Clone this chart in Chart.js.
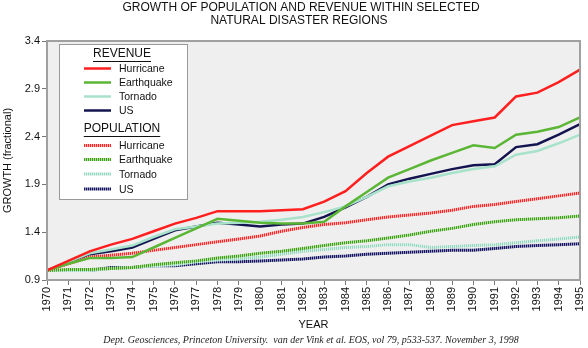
<!DOCTYPE html>
<html>
<head>
<meta charset="utf-8">
<script src="https://cdn.jsdelivr.net/npm/chart.js@4"></script>
<style>
  body { margin: 0; background: #fff; }
  #wrap { width: 588px; height: 348px; }
</style>
</head>
<body>
<div id="wrap"><canvas id="myChart" width="588" height="348"></canvas></div>
<script>
const years = [];
for (let y = 1970; y <= 1995; y++) years.push(String(y));

const yTicks = [0.9, 1.4, 1.9, 2.4, 2.9, 3.4];

// revenue growth, fraction of 1970
const revHurricane = [1.00, 1.10, 1.20, 1.27, 1.33, 1.41, 1.49, 1.55, 1.62, 1.62, 1.62, 1.63, 1.64, 1.72, 1.83, 2.02, 2.19, 2.30, 2.41, 2.52, 2.56, 2.60, 2.82, 2.86, 2.97, 3.10];
const revEarthquake = [1.00, 1.07, 1.13, 1.13, 1.14, 1.24, 1.34, 1.44, 1.54, 1.52, 1.50, 1.49, 1.49, 1.51, 1.67, 1.82, 1.97, 2.06, 2.15, 2.23, 2.31, 2.28, 2.42, 2.45, 2.50, 2.60];
const revTornado = [1.00, 1.09, 1.18, 1.22, 1.26, 1.35, 1.43, 1.46, 1.49, 1.50, 1.51, 1.53, 1.56, 1.61, 1.67, 1.77, 1.88, 1.93, 1.97, 2.02, 2.06, 2.09, 2.21, 2.25, 2.33, 2.42];
const revUS = [1.00, 1.09, 1.17, 1.20, 1.24, 1.33, 1.42, 1.46, 1.50, 1.48, 1.46, 1.48, 1.49, 1.56, 1.66, 1.77, 1.90, 1.96, 2.01, 2.06, 2.10, 2.11, 2.29, 2.32, 2.42, 2.53];

// population growth, fraction of 1970
const popHurricane = [1.00, 1.07, 1.14, 1.16, 1.18, 1.21, 1.24, 1.27, 1.30, 1.33, 1.36, 1.41, 1.45, 1.48, 1.50, 1.53, 1.56, 1.58, 1.60, 1.63, 1.67, 1.69, 1.72, 1.75, 1.78, 1.81];
const popEarthquake = [1.00, 1.01, 1.01, 1.02, 1.03, 1.06, 1.08, 1.10, 1.13, 1.15, 1.18, 1.20, 1.23, 1.26, 1.29, 1.31, 1.34, 1.37, 1.41, 1.44, 1.48, 1.51, 1.53, 1.54, 1.55, 1.57];
const popTornado = [1.00, 1.00, 1.00, 1.02, 1.03, 1.05, 1.06, 1.09, 1.11, 1.12, 1.14, 1.17, 1.20, 1.22, 1.24, 1.25, 1.27, 1.27, 1.24, 1.25, 1.26, 1.27, 1.29, 1.31, 1.33, 1.35];
const popUS = [1.00, 1.00, 1.00, 1.03, 1.03, 1.05, 1.05, 1.07, 1.09, 1.09, 1.10, 1.11, 1.12, 1.14, 1.15, 1.17, 1.18, 1.19, 1.20, 1.21, 1.21, 1.23, 1.25, 1.26, 1.27, 1.28];

const font = '"Liberation Sans", Arial, sans-serif';
const ctx = document.getElementById('myChart').getContext('2d');

// striped stroke for the population lines: dark dot, pale gap
function stripes(dark, light) {
    const c = document.createElement('canvas');
    c.width = 2;
    c.height = 1;
    const g = c.getContext('2d');
    g.fillStyle = light;
    g.fillRect(0, 0, 2, 1);
    g.fillStyle = dark;
    g.fillRect(0, 0, 1, 1);
    return ctx.createPattern(c, 'repeat');
}

function revLine(label, data, color) {
    return { label: label, data: data, borderColor: color, borderWidth: 2.5, pointRadius: 0, tension: 0 };
}

function popLine(label, data, color) {
    return { label: label, data: data, borderColor: color, borderWidth: 3, pointRadius: 0, tension: 0 };
}

// boxed legend with REVENUE / POPULATION headings
const groupLegend = {
    id: 'groupLegend',
    afterDraw(chart) {
        const c = chart.ctx;
        c.save();
        c.fillStyle = '#fff';
        c.fillRect(59.5, 44.5, 128, 155);
        c.strokeStyle = '#999';
        c.lineWidth = 1;
        c.strokeRect(59.5, 44.5, 128, 155);

        const rows = [
            { head: 'REVENUE', y: 54 },
            { ds: 0, y: 68.5 }, { ds: 1, y: 82.5 }, { ds: 2, y: 96.5 }, { ds: 3, y: 110.5 },
            { head: 'POPULATION', y: 129 },
            { ds: 4, y: 145.5 }, { ds: 5, y: 159.5 }, { ds: 6, y: 174 }, { ds: 7, y: 189 }
        ];
        c.textBaseline = 'middle';
        rows.forEach(r => {
            if (r.head) {
                c.font = '12px ' + font;
                c.fillStyle = '#111';
                c.textAlign = 'center';
                c.fillText(r.head, 122, r.y);
                const w = c.measureText(r.head).width;
                c.fillRect(122 - w / 2, r.y + 7, w, 1);
                return;
            }
            const ds = chart.data.datasets[r.ds];
            c.strokeStyle = ds.borderColor;
            c.lineWidth = ds.borderWidth;
            c.beginPath();
            c.moveTo(84, r.y);
            c.lineTo(111, r.y);
            c.stroke();
            c.font = '10.5px ' + font;
            c.fillStyle = '#111';
            c.textAlign = 'left';
            c.fillText(ds.label, 119, r.y + 1);
        });
        c.restore();
    }
};

// gray plot background and frame
const plotFrame = {
    id: 'plotFrame',
    beforeDatasetsDraw(chart) {
        const a = chart.chartArea;
        chart.ctx.save();
        chart.ctx.fillStyle = '#efefef';
        chart.ctx.fillRect(a.left, a.top, a.right - a.left, a.bottom - a.top);
        chart.ctx.restore();
    },
    afterDatasetsDraw(chart) {
        const a = chart.chartArea;
        chart.ctx.save();
        chart.ctx.strokeStyle = '#a0a0a0';
        chart.ctx.lineWidth = 2;
        chart.ctx.strokeRect(a.left, a.top, a.right - a.left, a.bottom - a.top);
        chart.ctx.restore();
    }
};

// heading on top, source line under the axis
const captions = {
    id: 'captions',
    afterDraw(chart) {
        const c = chart.ctx;
        c.save();
        c.fillStyle = '#111';
        c.textAlign = 'center';
        c.textBaseline = 'middle';
        c.font = '12px ' + font;
        c.fillText('GROWTH OF POPULATION AND REVENUE WITHIN SELECTED', 301, 8);
        c.fillText('NATURAL DISASTER REGIONS', 299, 20.5);
        c.font = 'italic 10px "Liberation Serif", "Times New Roman", serif';
        c.fillStyle = '#222';
        c.fillText('Dept. Geosciences, Princeton University.  van der Vink et al. EOS, vol 79, p533-537. November 3, 1998', 311, 340);
        c.restore();
    }
};

new Chart(ctx, {
    type: 'line',
    data: {
        labels: years,
        datasets: [
            revLine('Hurricane', revHurricane, '#ff1f1f'),
            revLine('Earthquake', revEarthquake, '#5cb636'),
            revLine('Tornado', revTornado, '#a8e2cb'),
            revLine('US', revUS, '#141450'),
            popLine('Hurricane', popHurricane, stripes('#ff2424', '#ffb0b0')),
            popLine('Earthquake', popEarthquake, stripes('#3e9e1c', '#b2e09c')),
            popLine('Tornado', popTornado, stripes('#96d6bf', '#d6f1e6')),
            popLine('US', popUS, stripes('#141460', '#9090b8'))
        ]
    },
    options: {
        responsive: false,
        animation: false,
        layout: { padding: { left: 0, right: 8, top: 41, bottom: 16 } },
        plugins: {
            legend: { display: false },
            tooltip: { enabled: false },
            title: { display: false }
        },
        scales: {
            x: {
                afterFit: scale => {
                    scale.height = 52;
                    scale.paddingLeft = 0;
                    scale.paddingRight = 0;
                },
                grid: { display: true, drawOnChartArea: false, tickLength: 5, color: '#777' },
                border: { display: false },
                ticks: {
                    color: '#111',
                    font: { family: font, size: 11 },
                    minRotation: 90,
                    maxRotation: 90,
                    autoSkip: false,
                    padding: 2
                },
                title: { display: true, text: 'YEAR', color: '#111', font: { family: font, size: 11 }, padding: { top: 0, bottom: 0 } }
            },
            y: {
                min: 0.9,
                max: 3.4,
                afterBuildTicks: scale => { scale.ticks = yTicks.map(v => ({ value: v })); },
                afterFit: scale => { scale.width = 47; },
                grid: { display: true, drawOnChartArea: false, tickLength: 5, color: '#777' },
                border: { display: false },
                ticks: {
                    color: '#111',
                    font: { family: font, size: 11 },
                    padding: 2,
                    callback: v => v.toFixed(1)
                },
                title: { display: true, text: 'GROWTH (fractional)', color: '#111', font: { family: font, size: 11 }, padding: { top: 1, bottom: 0 } }
            }
        }
    },
    plugins: [plotFrame, groupLegend, captions]
});
</script>
</body>
</html>
